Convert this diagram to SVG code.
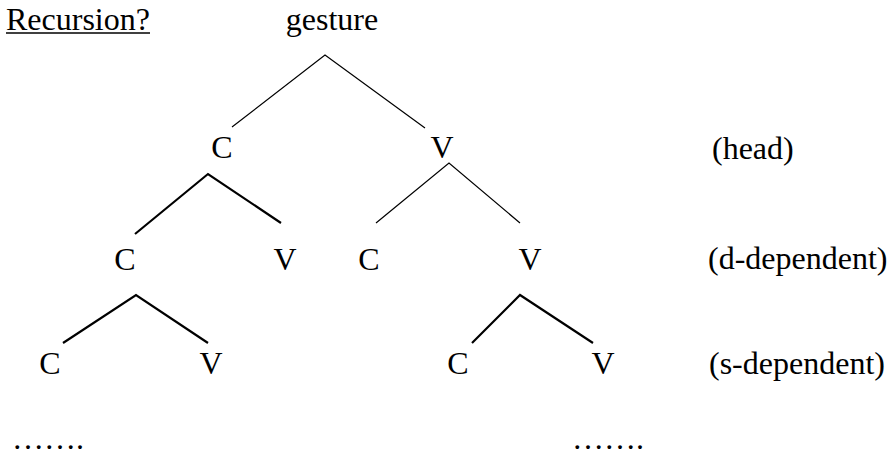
<svg xmlns="http://www.w3.org/2000/svg" width="893" height="452" viewBox="0 0 893 452">
<style>
text{font-family:"Liberation Serif","Times New Roman",serif;font-size:32px;fill:#000}
.m{text-anchor:middle}
.thin{stroke:#000;stroke-width:1.2;fill:none}
.thick{stroke:#000;stroke-width:2.2;fill:none}
</style>
<rect width="893" height="452" fill="#fff"/>
<g id="title"><text x="6" y="30">Recursion?</text><line x1="6" y1="33" x2="150" y2="33" stroke="#000" stroke-width="1.5"/></g>
<g id="gesture"><text x="332" y="30" class="m">gesture</text></g>
<g id="c1"><text x="222" y="158" class="m">C</text></g>
<g id="v1"><text x="442" y="158" class="m">V</text></g>
<g id="head"><text x="712" y="159">(head)</text></g>
<g id="c2a"><text x="125" y="270" class="m">C</text></g>
<g id="v2a"><text x="285" y="270" class="m">V</text></g>
<g id="c2b"><text x="369" y="270" class="m">C</text></g>
<g id="v2b"><text x="530" y="270" class="m">V</text></g>
<g id="ddep"><text x="708" y="269">(d-dependent)</text></g>
<g id="c3a"><text x="50" y="374" class="m">C</text></g>
<g id="v3a"><text x="211" y="374" class="m">V</text></g>
<g id="c3b"><text x="458" y="374" class="m">C</text></g>
<g id="v3b"><text x="603" y="374" class="m">V</text></g>
<g id="sdep"><text x="709" y="374">(s-dependent)</text></g>
<g id="dots1"><text x="12" y="449">…….</text></g>
<g id="dots2"><text x="572" y="449">…….</text></g>
<g id="connectors">
<polyline class="thin" points="232,127 325,55 425,128"/>
<polyline class="thick" points="135,234 208,174 281,223"/>
<polyline class="thin" points="376,223 449,163 520,223"/>
<polyline class="thick" points="63,343 136,295 208,343"/>
<polyline class="thick" points="472,343 520,295 593,343"/>
</g>
</svg>
